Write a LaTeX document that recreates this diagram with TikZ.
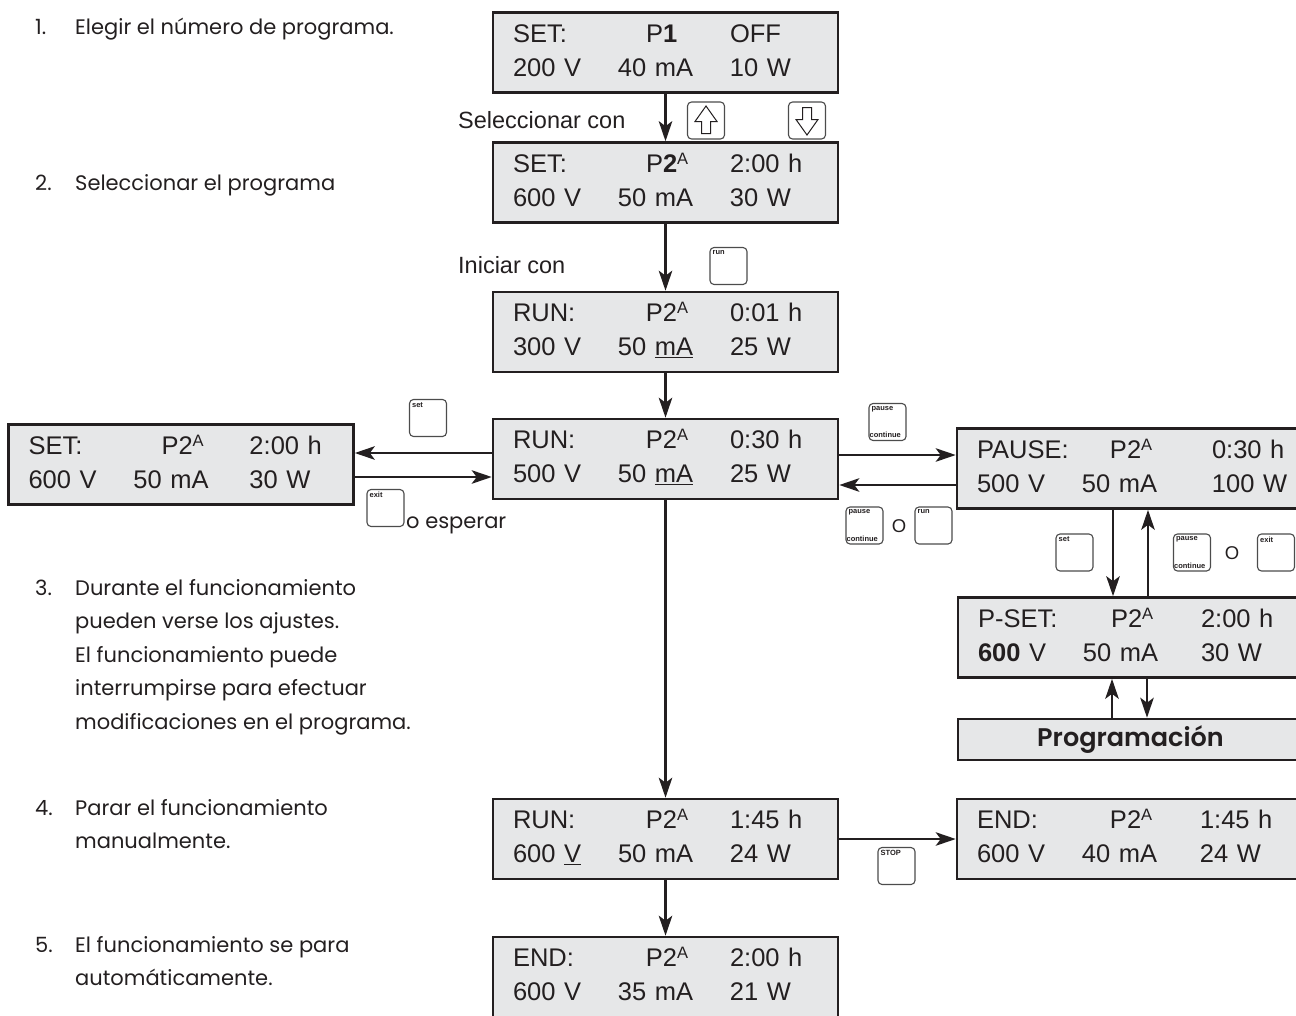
\documentclass[tikz,border=0pt]{standalone}
\usepackage{fontspec}
\setmainfont{Liberation Sans}
\newfontfamily\descfont{Poppins}
\newfontfamily\progfont{Poppins SemiBold}
\usepackage{tikz}
\usetikzlibrary{arrows.meta, positioning}

\definecolor{ink}{HTML}{231F20}
\definecolor{lcdgray}{HTML}{E6E7E8}

% two-line display: [width of 2nd column] row 1, row 2
\newcommand{\disp}[7][112pt]{%
  \begin{tabular}{@{}p{105pt}@{}p{#1}@{}l@{}}
    #2 & \hspace*{28pt}#3 & #4\\
    #5 & #6 & #7
  \end{tabular}}
\newcommand{\supA}{\raisebox{8pt}{\fontsize{16.5}{16.5}\selectfont A}}
\newcommand{\ptwo}{P2\supA}

\begin{document}
\begin{tikzpicture}[
    x=1pt, y=-1pt,
    >={Stealth[length=20pt, width=13.5pt, inset=5pt]},
    lcd/.style={rectangle, draw=ink, fill=lcdgray, line width=2.6pt, minimum height=80pt, text width=305pt, inner xsep=20pt, inner ysep=0pt, align=left, text=ink, font=\fontsize{25.5}{34}\selectfont},
    arrow/.style={->, line width=2.2pt, draw=ink},
    key/.style={rectangle, rounded corners=4pt, draw=black!70, line width=1.1pt, fill=white, minimum width=37pt, minimum height=37pt, inner sep=0pt},
    keytxt/.style={font=\bfseries\fontsize{7.5}{8}\selectfont, text=ink, inner sep=3pt},
    hollow/.style={draw=ink, line width=1pt, line join=miter},
    desc/.style={anchor=base west, inner sep=0pt, text=ink, font=\descfont\fontsize{21}{33.5}\selectfont},
    note/.style={anchor=base west, inner sep=0pt, text=ink, font=\fontsize{23.5}{28}\selectfont},
    ortxt/.style={inner sep=0pt, text=ink, font=\fontsize{18.5}{20}\selectfont}
]
\useasboundingbox (0,0) rectangle (1296,1015);
\clip (0,0) rectangle (1296,1015);

% steps on the left
\node[desc] (d1) at (35,34) {\begin{tabular}[t]{@{}p{40pt}@{}l@{}}1. & Elegir el número de programa.\end{tabular}};
\node[desc] (d2) at (35,190) {\begin{tabular}[t]{@{}p{40pt}@{}l@{}}2. & Seleccionar el programa\end{tabular}};
\node[desc] (d3) at (35,595) {\begin{tabular}[t]{@{}p{40pt}@{}l@{}}3. & Durante el funcionamiento\\ & pueden verse los ajustes.\\ & El funcionamiento puede\\ & interrumpirse para efectuar\\ & modificaciones en el programa.\end{tabular}};
\node[desc] (d4) at (35,815) {\begin{tabular}[t]{@{}p{40pt}@{}l@{}}4. & Parar el funcionamiento\\ & manualmente.\end{tabular}};
\node[desc] (d5) at (35,952) {\begin{tabular}[t]{@{}p{40pt}@{}l@{}}5. & El funcionamiento se para\\ & automáticamente.\end{tabular}};

% displays
\node[lcd] (b1) at (665.5,52.5) {\disp{SET:}{P\textbf{1}}{OFF}{200 V}{40 mA}{10 W}};
\node[lcd] (b2) at (665.5,182.5) {\disp{SET:}{P\textbf{2}\supA}{2:00 h}{600 V}{50 mA}{30 W}};
\node[lcd] (b3) at (665.5,332) {\disp{RUN:}{\ptwo}{0:01 h}{300 V}{50 \underline{mA}}{25 W}};
\node[lcd] (b4) at (665.5,459) {\disp{RUN:}{\ptwo}{0:30 h}{500 V}{50 \underline{mA}}{25 W}};
\node[lcd] (lset) at (181,464.5) {\disp[116pt]{SET:}{\ptwo}{2:00 h}{600 V}{50 mA}{30 W}};
\node[lcd] (pause) at (1129.5,468.5) {\disp[130pt]{PAUSE:}{\ptwo}{0:30 h}{500 V}{50 mA}{100 W}};
\node[lcd] (pset) at (1130.5,637.5) {\disp[118pt]{P-SET:}{\ptwo}{2:00 h}{\textbf{600} V}{50 mA}{30 W}};
\node[lcd, minimum height=41pt, align=center, font=\progfont\fontsize{25.5}{30}\selectfont] (prog) at (1130.5,739.5) {Programación};
\node[lcd] (b5) at (665.5,839) {\disp{RUN:}{\ptwo}{1:45 h}{600 \underline{V}}{50 mA}{24 W}};
\node[lcd] (endr) at (1129.5,839) {\disp[118pt]{END:}{\ptwo}{1:45 h}{600 V}{40 mA}{24 W}};
\node[lcd] (b6) at (665.5,977) {\disp{END:}{\ptwo}{2:00 h}{600 V}{35 mA}{21 W}};

% texts beside the arrows
\node[note] (sel) at (458,128) {Seleccionar con};
\node[note] (ini) at (458,273) {Iniciar con};
\node[desc] (wait) at (406,528) {o esperar};
\node[ortxt] (o1) at (899,526) {O};
\node[ortxt] (o2) at (1232,553) {O};

% keys
\node[key] (kup) at (706,120.5) {};
\node[key] (kdown) at (807,120.5) {};
\draw[hollow, shift={(kup.center)}] (0,-14.5) -- (11,1) -- (4.5,1) -- (4.5,13) -- (-4.5,13) -- (-4.5,1) -- (-11,1) -- cycle;
\draw[hollow, shift={(kdown.center)}] (0,14.5) -- (11,-1) -- (4.5,-1) -- (4.5,-13) -- (-4.5,-13) -- (-4.5,-1) -- (-11,-1) -- cycle;
\node[key, label={[keytxt, anchor=north west]north west:run}] (krun) at (728.5,266) {};
\node[key, label={[keytxt, anchor=north west]north west:set}] (kset) at (428,418) {};
\node[key, label={[keytxt, anchor=north west]north west:exit}] (kexit) at (385.5,508) {};
\node[key, label={[keytxt, anchor=north west]north west:pause}, label={[keytxt, inner xsep=1pt, anchor=south west]south west:continue}] (kpause) at (887.5,422) {};
\node[key, label={[keytxt, anchor=north west]north west:pause}, label={[keytxt, inner xsep=1pt, anchor=south west]south west:continue}] (kpause2) at (864.5,525.5) {};
\node[key, label={[keytxt, anchor=north west]north west:run}] (krun2) at (933.5,525.5) {};
\node[key, label={[keytxt, anchor=north west]north west:set}] (kset2) at (1074.5,552.5) {};
\node[key, label={[keytxt, anchor=north west]north west:pause}, label={[keytxt, inner xsep=1pt, anchor=south west]south west:continue}] (kpause3) at (1192,552.5) {};
\node[key, label={[keytxt, anchor=north west]north west:exit}] (kexit2) at (1276,552.5) {};
\node[key, label={[keytxt, anchor=north west]north west:STOP}] (kstop) at (896.5,866) {};

% connections
\draw[arrow] (b1) -- (b2);
\draw[arrow] (b2) -- (b3);
\draw[arrow] (b3) -- (b4);
\draw[arrow] (b4.west |- 0,453) -- (lset.east |- 0,453);
\draw[arrow] (lset.east |- 0,477) -- (b4.west |- 0,477);
\draw[arrow] (b4.east |- 0,455) -- (pause.west |- 0,455);
\draw[arrow] (pause.west |- 0,485) -- (b4.east |- 0,485);
\draw[arrow] (pause.south -| 1113,0) -- (pset.north -| 1113,0);
\draw[arrow] (pset.north -| 1148,0) -- (pause.south -| 1148,0);
\draw[arrow] (prog.north -| 1112,0) -- (pset.south -| 1112,0);
\draw[arrow] (pset.south -| 1147,0) -- (prog.north -| 1147,0);
\draw[arrow] (b4) -- (b5);
\draw[arrow] (b5) -- (b6);
\draw[arrow] (b5) -- (endr);

\end{tikzpicture}
\end{document}
